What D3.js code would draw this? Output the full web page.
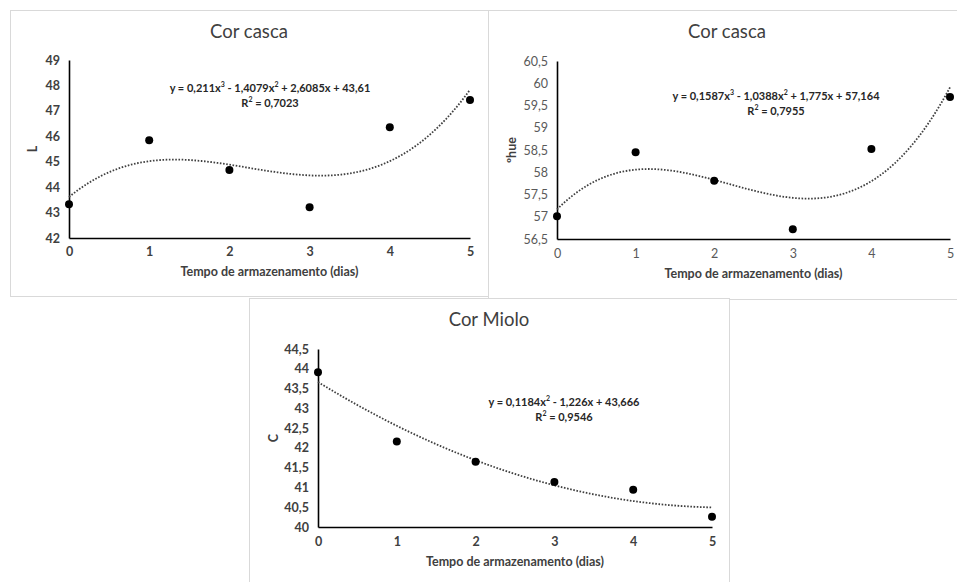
<!DOCTYPE html>
<html><head><meta charset="utf-8">
<script src="https://cdn.jsdelivr.net/npm/d3@7"></script>
<style>
html,body{margin:0;padding:0;background:#fff;}
svg{display:block;font-family:Lato,"Open Sans",sans-serif;}
</style></head>
<body><svg id="c" width="957" height="582"></svg>
<script>
// ---- data ----
const days = [0, 1, 2, 3, 4, 5];
const dayTicks = ["0", "1", "2", "3", "4", "5"];

const cascaL = [43.33, 45.84, 44.67, 43.21, 46.36, 47.43];
const cascaLCoef = [43.61, 2.6085, -1.4079, 0.211]; // c0 + c1 x + c2 x^2 + c3 x^3
const cascaLTicks = [42, 43, 44, 45, 46, 47, 48, 49];

const cascaHue = [57.01, 58.45, 57.81, 56.72, 58.52, 59.69];
const cascaHueCoef = [57.164, 1.775, -1.0388, 0.1587];
const cascaHueTicks = [56.5, 57, 57.5, 58, 58.5, 59, 59.5, 60, 60.5];

const mioloC = [43.91, 42.16, 41.65, 41.14, 40.94, 40.26];
const mioloCCoef = [43.666, -1.226, 0.1184];
const mioloCTicks = [40, 40.5, 41, 41.5, 42, 42.5, 43, 43.5, 44, 44.5];

const titles = ["Cor casca", "Cor casca", "Cor Miolo"];
const yTitles = ["L", "ºhue", "C"];
const xTitle = "Tempo de armazenamento (dias)";
const eq1 = [["y = 0,211x", "3", " - 1,4079x", "2", " + 2,6085x + 43,61"], ["R", "2", " = 0,7023"]];
const eq2 = [["y = 0,1587x", "3", " - 1,0388x", "2", " + 1,775x + 57,164"], ["R", "2", " = 0,7955"]];
const eq3 = [["y = 0,1184x", "2", " - 1,226x + 43,666"], ["R", "2", " = 0,9546"]];

// ---- layout ----
const svg = d3.select("#c");
const fmt = v => String(v).replace(".", ",");

const panels = [
  {box:[10,10,478,286], plot:[69,60,470,238], vals:cascaL, coef:cascaLCoef, ticks:cascaLTicks,
   title:titles[0], ytitle:yTitles[0], eq:eq1, eqPos:[270,89], titleX:249, titleY:33, tickBold:true, ytx:34, tickLY:253, xtY:273},
  {box:[488,10,480,289], plot:[557,61,950,239], vals:cascaHue, coef:cascaHueCoef, ticks:cascaHueTicks,
   title:titles[1], ytitle:yTitles[1], eq:eq2, eqPos:[776,97], titleX:727, titleY:33, tickBold:false, ytx:513, tickLY:255, xtY:275},
  {box:[249,298,480,290], plot:[318,349,712,527], vals:mioloC, coef:mioloCCoef, ticks:mioloCTicks,
   title:titles[2], ytitle:yTitles[2], eq:eq3, eqPos:[564,403], titleX:489, titleY:321, tickBold:true, ytx:275, tickLY:543, xtY:563}
];

panels.forEach(p => {
  const g = svg.append("g");
  g.append("rect").attr("x", p.box[0]+0.5).attr("y", p.box[1]+0.5)
    .attr("width", p.box[2]).attr("height", p.box[3])
    .attr("fill", "#fff").attr("stroke", "#d9d9d9").attr("stroke-width", 1);

  const [x0, y0, x1, y1] = p.plot;
  const x = d3.scaleLinear().domain([days[0], days[days.length-1]]).range([x0, x1]);
  const y = d3.scaleLinear().domain([p.ticks[0], p.ticks[p.ticks.length-1]]).range([y1, y0]);

  // title
  g.append("text").attr("x", p.titleX).attr("y", p.titleY).attr("text-anchor", "middle")
    .attr("dominant-baseline", "middle").attr("font-size", 18.5).attr("fill", "#404040").text(p.title);

  // y axis
  const ya = d3.axisLeft(y).tickValues(p.ticks).tickSize(0).tickPadding(9).tickFormat(fmt);
  const yg = g.append("g").attr("transform", `translate(${x0},0)`).call(ya);
  yg.select(".domain").attr("stroke", "#000").attr("stroke-width", 1.6);
  yg.selectAll("text").attr("font-size", 12.5).attr("font-family", "Lato, sans-serif")
    .attr("font-weight", p.tickBold ? "bold" : "normal").attr("fill", p.tickBold ? "#404040" : "#595959");

  // x axis
  const xa = d3.axisBottom(x).tickValues(days).tickSize(0).tickPadding(0)
    .tickFormat((d, i) => dayTicks[i]);
  const xg = g.append("g").attr("transform", `translate(0,${y1})`).call(xa);
  xg.select(".domain").attr("stroke", "#000").attr("stroke-width", 1.6);
  xg.selectAll("text").attr("font-size", 12.5).attr("font-family", "Lato, sans-serif")
    .attr("dy", null).attr("y", p.tickLY - y1).attr("dominant-baseline", "middle")
    .attr("font-weight", p.tickBold ? "bold" : "normal").attr("fill", p.tickBold ? "#404040" : "#595959");

  // axis titles
  g.append("text").attr("x", (x0 + x1) / 2).attr("y", p.xtY).attr("text-anchor", "middle")
    .attr("dominant-baseline", "middle").attr("font-size", 12.5).attr("font-weight", "bold")
    .attr("fill", "#404040").text(xTitle);
  g.append("text").attr("transform", `translate(${p.ytx},${(y0 + y1) / 2}) rotate(-90)`)
    .attr("text-anchor", "middle").attr("dominant-baseline", "middle").attr("font-size", 12.5)
    .attr("font-weight", "bold").attr("fill", "#404040").text(p.ytitle);

  // trendline from displayed equation
  const poly = t => p.coef.reduce((s, c, k) => s + c * Math.pow(t, k), 0);
  const pts = d3.range(0, 100.5, 1).map(i => days[0] + (days[days.length-1] - days[0]) * i / 100);
  g.append("path").datum(pts)
    .attr("d", d3.line().x(t => x(t)).y(t => y(poly(t))).curve(d3.curveLinear))
    .attr("fill", "none").attr("stroke", "#404040").attr("stroke-width", 1.8)
    .attr("stroke-dasharray", "1.6,1.6");

  // points
  g.selectAll("circle.pt").data(p.vals).join("circle").attr("class", "pt")
    .attr("cx", (d, i) => x(days[i])).attr("cy", d => y(d)).attr("r", 4).attr("fill", "#000");

  // equation
  p.eq.forEach((line, li) => {
    const t = g.append("text").attr("x", p.eqPos[0]).attr("y", p.eqPos[1] + li * 14.5)
      .attr("text-anchor", "middle").attr("dominant-baseline", "middle")
      .attr("font-size", 11).attr("font-weight", "bold").attr("fill", "#262626");
    line.forEach((s, k) => {
      if (k % 2 === 1) t.append("tspan").attr("font-size", 7).attr("dy", -4).text(s);
      else t.append("tspan").attr("dy", k === 0 ? 0 : 4).text(s);
    });
  });
});
</script></body></html>
